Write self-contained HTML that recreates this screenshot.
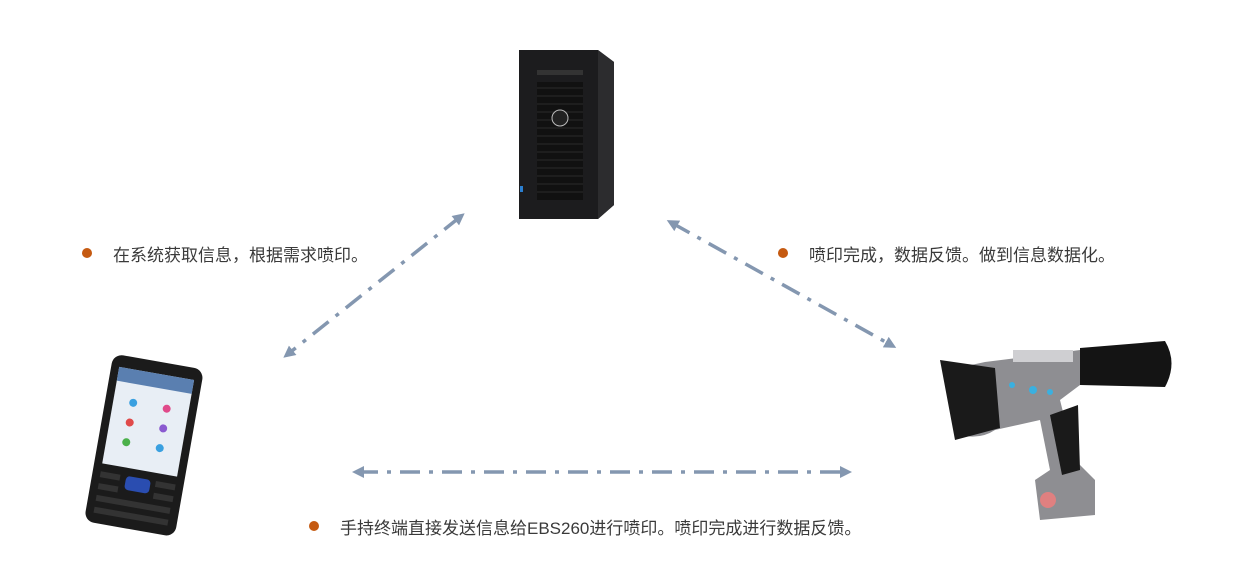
<!DOCTYPE html>
<html><head><meta charset="utf-8"><style>
html,body{margin:0;padding:0;background:#fff;}
body{width:1250px;height:586px;overflow:hidden;position:relative;font-family:"Liberation Sans","Noto Sans CJK SC",sans-serif;}
.t{position:absolute;font-size:17px;color:#3a3a3a;white-space:nowrap;}
.d{position:absolute;width:10px;height:10px;border-radius:50%;background:#c55a11;}
</style></head><body>
<svg width="1250" height="586" style="position:absolute;left:0;top:0">
<defs>
<marker id="a" markerWidth="12" markerHeight="12" refX="6" refY="6" orient="auto-start-reverse" markerUnits="userSpaceOnUse"><path d="M0,0 L12,6 L0,12 z" fill="#8497b0"/></marker>
</defs>
<g stroke="#8497b0" stroke-width="3.5" stroke-dasharray="20,9,4,9" fill="none">
<line x1="460" y1="217" x2="288" y2="354" marker-start="url(#a)" marker-end="url(#a)"/>
<line x1="672" y1="223" x2="891" y2="345" marker-start="url(#a)" marker-end="url(#a)"/>
<line x1="358" y1="472" x2="846" y2="472" marker-start="url(#a)" marker-end="url(#a)"/>
</g>
<!-- server -->
<polygon points="519,50 598,50 614,62 614,205 598,219 519,219" fill="#1c1c1e"/>
<polygon points="598,50 614,62 614,205 598,219" fill="#2c2c2e"/>
<rect x="537" y="70" width="46" height="5" fill="#333"/>
<rect x="537" y="82" width="46" height="118" fill="#111"/>
<g stroke="#2a2a2a" stroke-width="1">
<line x1="537" y1="88" x2="583" y2="88"/><line x1="537" y1="96" x2="583" y2="96"/><line x1="537" y1="104" x2="583" y2="104"/><line x1="537" y1="112" x2="583" y2="112"/><line x1="537" y1="120" x2="583" y2="120"/><line x1="537" y1="128" x2="583" y2="128"/><line x1="537" y1="136" x2="583" y2="136"/><line x1="537" y1="144" x2="583" y2="144"/><line x1="537" y1="152" x2="583" y2="152"/><line x1="537" y1="160" x2="583" y2="160"/><line x1="537" y1="168" x2="583" y2="168"/><line x1="537" y1="176" x2="583" y2="176"/><line x1="537" y1="184" x2="583" y2="184"/><line x1="537" y1="192" x2="583" y2="192"/>
</g>
<circle cx="560" cy="118" r="8" fill="#222" stroke="#bbb" stroke-width="1"/>
<rect x="520" y="186" width="3" height="6" fill="#2b7fd0"/>
<!-- phone -->
<g transform="rotate(10 142 445)">
<rect x="98" y="360" width="92" height="170" rx="10" fill="#1b1b1b"/>
<rect x="106" y="372" width="76" height="98" fill="#e8eef5"/>
<rect x="106" y="372" width="76" height="14" fill="#5a7fb0"/>
<circle cx="126" cy="405" r="4" fill="#3aa0e0"/><circle cx="160" cy="405" r="4" fill="#e04a8a"/>
<circle cx="126" cy="425" r="4" fill="#e04a4a"/><circle cx="160" cy="425" r="4" fill="#8a5ad0"/>
<circle cx="126" cy="445" r="4" fill="#4ab04a"/><circle cx="160" cy="445" r="4" fill="#3aa0e0"/>
<rect x="132" y="478" width="25" height="14" rx="4" fill="#2a4db0"/>
<g fill="#333"><rect x="106" y="478" width="20" height="6"/><rect x="106" y="490" width="20" height="6"/><rect x="106" y="502" width="75" height="6"/><rect x="106" y="514" width="75" height="6"/><rect x="162" y="478" width="20" height="6"/><rect x="162" y="490" width="20" height="6"/></g>
</g>
<!-- printer -->
<path d="M985,362 L1080,350 L1165,343 Q1175,365 1165,385 L1080,385 L1060,400 L1075,460 L1095,480 L1095,515 L1040,520 L1035,480 L1050,470 L1040,420 L995,430 Q980,440 960,435 L948,370 Z" fill="#8e8e92"/>
<path d="M1080,348 L1165,341 Q1178,363 1165,387 L1080,385 Z" fill="#141414"/>
<path d="M940,360 L995,368 L1000,428 L955,440 Z" fill="#1a1a1a"/>
<rect x="1013" y="350" width="60" height="12" fill="#cfcfd2"/>
<path d="M1050,415 L1078,405 L1080,470 L1062,475 Z" fill="#1a1a1a"/>
<circle cx="1048" cy="500" r="8" fill="#e08080"/>
<circle cx="1012" cy="385" r="3" fill="#3ab0e0"/><circle cx="1033" cy="390" r="4" fill="#3ab0e0"/><circle cx="1050" cy="392" r="3" fill="#3ab0e0"/>
</svg>
<div class="d" style="left:82px;top:248px"></div>
<div class="t" style="left:113px;top:241px">在系统获取信息，根据需求喷印。</div>
<div class="d" style="left:778px;top:248px"></div>
<div class="t" style="left:809px;top:241px">喷印完成，数据反馈。做到信息数据化。</div>
<div class="d" style="left:309px;top:521px"></div>
<div class="t" style="left:340px;top:514px">手持终端直接发送信息给EBS260进行喷印。喷印完成进行数据反馈。</div>
</body></html>
